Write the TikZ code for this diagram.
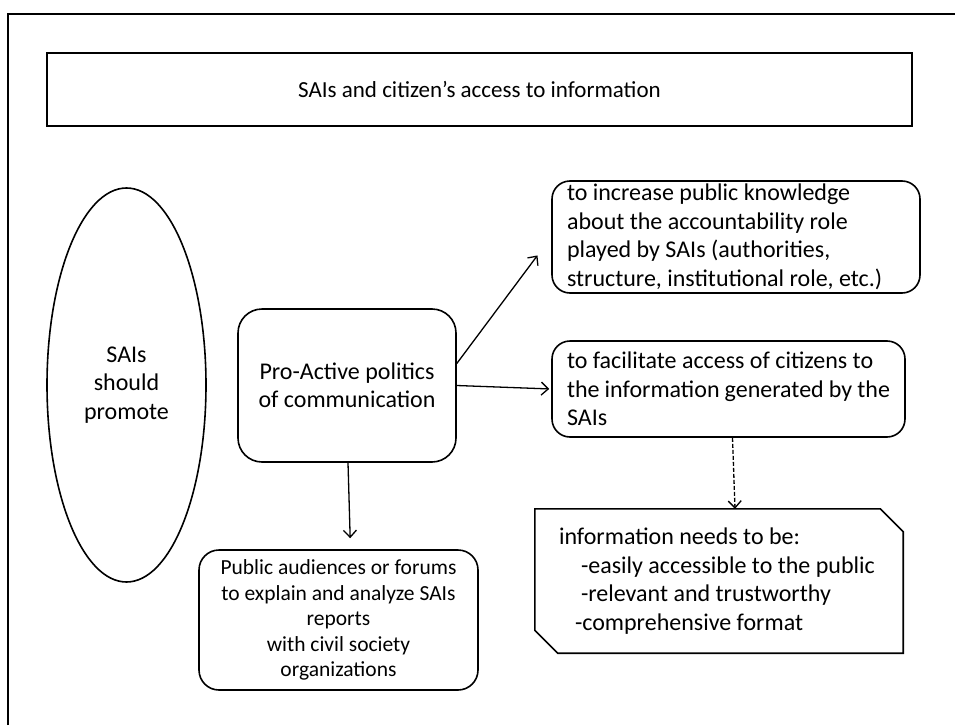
\documentclass[tikz,border=0pt]{standalone}
\usepackage{fontspec}
\setmainfont{Carlito}
\usetikzlibrary{shapes.geometric,arrows.meta}

\newcommand{\boxfont}{\fontsize{24}{28.5}\selectfont}
\newcommand{\smallboxfont}{\fontsize{21.5}{25.5}\selectfont}

\begin{document}
\begin{tikzpicture}[x=1pt,y=-1pt,font=\boxfont]

    \tikzstyle{frame}=[line width=1.6pt]
    \tikzstyle{roundbox}=[draw, line width=1.6pt, rounded corners=20pt, inner sep=0pt]
    \tikzstyle{link}=[line width=1.3pt, -{Straight Barb[length=7pt,width=13pt]}]

    \useasboundingbox (0,0) rectangle (955,725);
    \draw[frame] (8,725) -- (8,14) -- (955,14);

    \node[draw, frame, minimum width=865pt, minimum height=73pt, font=\fontsize{23}{28}\selectfont] (title) at (479.5,89.5)
        {SAIs and citizen’s access to information};

    \node[ellipse, draw, frame, minimum width=159pt, minimum height=394pt, align=center] (sais) at (126.5,385)
        {SAIs\\should\\promote};

    \node[roundbox, rounded corners=24pt, minimum width=218pt, minimum height=153pt, align=center] (pro) at (347,385.5)
        {Pro-Active politics\\of communication};

    \node[roundbox, rounded corners=18pt, minimum width=368pt, minimum height=112pt, text width=338pt, align=flush left] (know) at (736,237)
        {to increase public knowledge\\about the accountability role\\played by SAIs (authorities,\\structure, institutional role, etc.)};

    \node[roundbox, rounded corners=18pt, minimum width=353pt, minimum height=96pt, text width=323pt, align=flush left] (reach) at (728.5,389)
        {to facilitate access of citizens to\\the information generated by the\\SAIs};

    \node[inner sep=0pt, minimum width=368pt, minimum height=144pt, text width=320pt, align=flush left] (info) at (719,581)
        {information needs to be:\\
         \hspace*{22pt}-easily accessible to the public\\
         \hspace*{22pt}-relevant and trustworthy\\
         \hspace*{16pt}-comprehensive format};
    \draw[frame] (info.north west) -- ([xshift=-23pt]info.north east) -- ([yshift=-23pt]info.north east)
                 -- (info.south east) -- ([xshift=23pt]info.south west) -- ([yshift=23pt]info.south west) -- cycle;

    \node[roundbox, minimum width=279pt, minimum height=140pt, align=center, font=\smallboxfont] (forum) at (338.5,620)
        {Public audiences or forums\\to explain and analyze SAIs\\reports\\with civil society\\organizations};

    \draw[link, shorten >=23pt] ([yshift=22pt]pro.east) -- (know.west);
    \draw[link, shorten >=2pt]  (pro.east) -- (reach.west);
    \draw[link, dash pattern=on 4pt off 2pt] ([xshift=4pt]reach.south) -- ([xshift=16pt]info.north);
    \draw[link, shorten >=11pt] ([xshift=1pt]pro.south) -- ([xshift=12pt]forum.north);

\end{tikzpicture}
\end{document}
